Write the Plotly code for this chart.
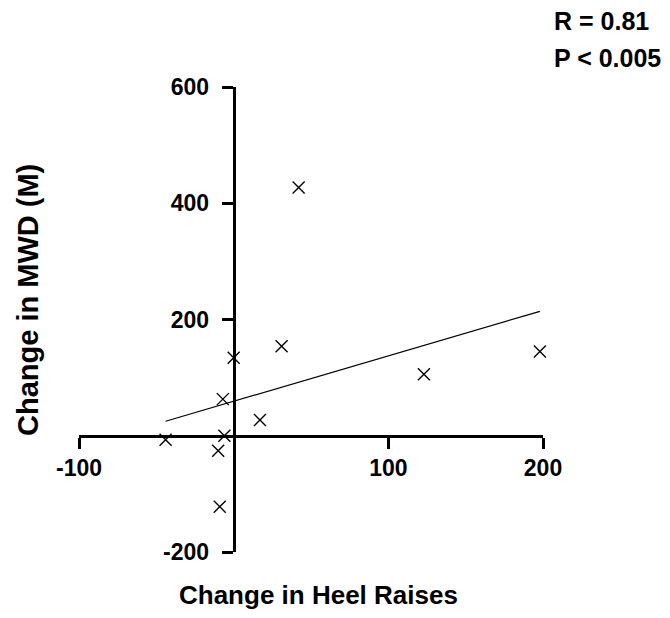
import plotly.graph_objects as go

# Data
heel_raises_change = [-44, -10, -7, -6, -9, 0, 17, 31, 42, 123, 198]
mwd_change = [-7, -26, 63, 0, -122, 134, 27, 154, 427, 106, 145]

# Regression line endpoints (as drawn)
trend_x = [-44, 198]
trend_y = [25, 214]

x_range = [-100, 200]
y_range = [-200, 600]
x_ticks = [-100, 100, 200]
x_ticktext = ["-100", "100", "200"]
y_ticks = [-200, 200, 400, 600]
y_ticktext = ["-200", "200", "400", "600"]

x_title = "Change in Heel Raises"
y_title = "Change in MWD (M)"
stats_lines = ["R = 0.81", "P < 0.005"]

FONT = "Liberation Sans, Arial, sans-serif"

fig = go.Figure()
fig.add_trace(go.Scatter(
    x=trend_x, y=trend_y, mode="lines",
    line=dict(color="black", width=1.2),
    hoverinfo="skip", showlegend=False, cliponaxis=False,
))
fig.add_trace(go.Scatter(
    x=heel_raises_change, y=mwd_change, mode="markers",
    marker=dict(symbol="x-thin", size=12, line=dict(color="black", width=1.4)),
    showlegend=False, cliponaxis=False,
))

# axes cross at the origin
x_pos = (0 - y_range[0]) / (y_range[1] - y_range[0])
y_pos = (0 - x_range[0]) / (x_range[1] - x_range[0])

tickfont = dict(family=FONT, size=23, color="black", weight="bold")

fig.update_layout(
    width=670, height=618,
    margin=dict(l=79, r=127, t=87, b=66),
    plot_bgcolor="white", paper_bgcolor="white",
    xaxis=dict(
        range=x_range, domain=[0, 1], anchor="free", position=x_pos,
        showline=True, linewidth=3, linecolor="black",
        ticks="outside", ticklen=11, tickwidth=3, tickcolor="black",
        tickvals=x_ticks, ticktext=x_ticktext, showgrid=False, zeroline=False,
        tickfont=tickfont, ticklabelstandoff=0,
    ),
    yaxis=dict(
        range=y_range, domain=[0, 1], anchor="free", position=y_pos,
        showline=True, linewidth=3, linecolor="black",
        ticks="outside", ticklen=11, tickwidth=3, tickcolor="black",
        tickvals=y_ticks, ticktext=y_ticktext, showgrid=False, zeroline=False,
        tickfont=tickfont, ticklabelstandoff=8,
    ),
    annotations=[
        dict(text=x_title, xref="paper", yref="paper", x=(318 - 79) / 464, y=-(595 - 552) / 465,
             showarrow=False, xanchor="center", yanchor="middle",
             font=dict(family=FONT, size=26, color="black", weight="bold")),
        dict(text=y_title, xref="paper", yref="paper", x=-(79 - 28) / 464, y=(552 - 300) / 465,
             showarrow=False, xanchor="center", yanchor="middle", textangle=-90,
             font=dict(family=FONT, size=29, color="black", weight="bold")),
        dict(text=stats_lines[0], xref="paper", yref="paper", x=(552 - 79) / 464, y=(552 - 21) / 465,
             showarrow=False, xanchor="left", yanchor="middle",
             font=dict(family=FONT, size=25, color="black", weight="bold")),
        dict(text=stats_lines[1], xref="paper", yref="paper", x=(552 - 79) / 464, y=(552 - 58) / 465,
             showarrow=False, xanchor="left", yanchor="middle",
             font=dict(family=FONT, size=25, color="black", weight="bold")),
    ],
)

fig.write_html("out.html")
